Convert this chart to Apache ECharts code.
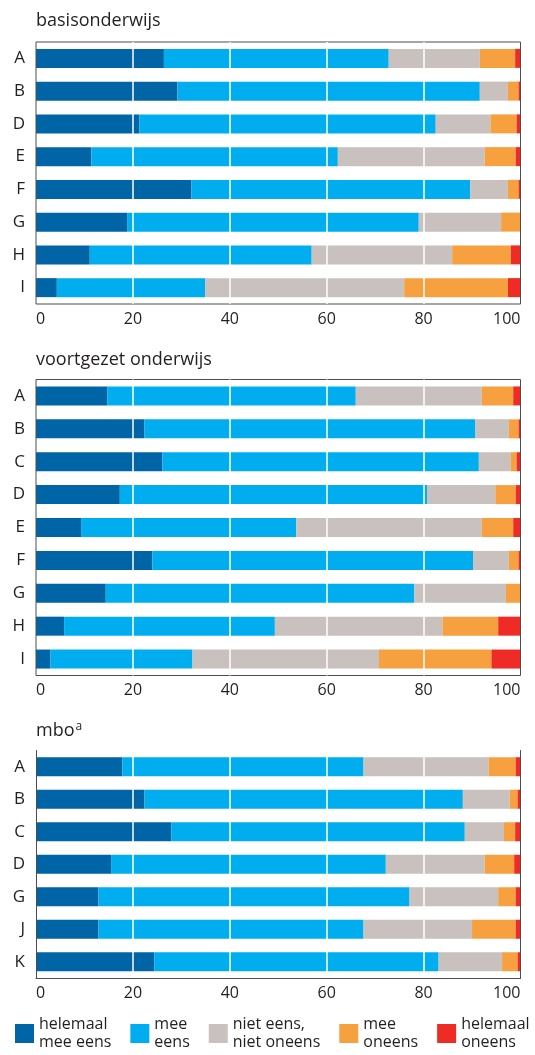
<!DOCTYPE html>
<html lang="nl">
<head>
<meta charset="utf-8">
<title>basisonderwijs, voortgezet onderwijs, mbo</title>
<script src="https://cdn.jsdelivr.net/npm/echarts@6/dist/echarts.min.js"></script>
<style>
  html, body { margin: 0; padding: 0; background: #fff; }
  #chart { width: 535px; height: 1055px; }
</style>
</head>
<body>
<div id="chart"></div>
<script>
// antwoordcategorieen (legenda)
const answerNames = ['helemaal\nmee eens', 'mee\neens', 'niet eens,\nniet oneens', 'mee\noneens', 'helemaal\noneens'];
const answerColors = ['#0065a6', '#00aeef', '#c9c1bd', '#f6a03f', '#ee2b25'];
const xTicks = [0, 20, 40, 60, 80, 100];

// basisonderwijs
const basisCats = ['A', 'B', 'D', 'E', 'F', 'G', 'H', 'I'];
const basisHelemaalEens = [26.4, 29.2, 21.3, 11.4, 32.1, 18.8, 11.1, 4.3];
const basisEens = [46.4, 62.4, 61.2, 50.9, 57.5, 60.2, 45.8, 30.6];
const basisNeutraal = [18.8, 5.8, 11.3, 30.3, 7.8, 17.0, 29.0, 41.1];
const basisOneens = [7.3, 2.2, 5.4, 6.4, 2.2, 3.9, 12.1, 21.4];
const basisHelemaalOneens = [1.1, 0.4, 0.8, 1.0, 0.4, 0.1, 2.0, 2.6];

// voortgezet onderwijs
const voCats = ['A', 'B', 'C', 'D', 'E', 'F', 'G', 'H', 'I'];
const voHelemaalEens = [14.7, 22.4, 26.1, 17.3, 9.3, 24.0, 14.4, 5.8, 3.0];
const voEens = [51.3, 68.3, 65.3, 63.4, 44.4, 66.2, 63.7, 43.5, 29.3];
const voNeutraal = [26.0, 6.9, 6.6, 14.1, 38.3, 7.4, 18.9, 34.6, 38.5];
const voOneens = [6.5, 2.0, 1.2, 4.2, 6.5, 2.0, 2.9, 11.5, 23.2];
const voHelemaalOneens = [1.5, 0.4, 0.8, 1.0, 1.5, 0.4, 0.1, 4.6, 6.0];

// mbo
const mboCats = ['A', 'B', 'C', 'D', 'G', 'J', 'K'];
const mboHelemaalEens = [17.8, 22.4, 27.9, 15.5, 12.9, 12.9, 24.4];
const mboEens = [49.8, 65.7, 60.6, 56.7, 64.2, 54.7, 58.7];
const mboNeutraal = [25.8, 9.7, 8.1, 20.4, 18.3, 22.4, 13.1];
const mboOneens = [5.6, 1.6, 2.3, 6.1, 3.6, 9.0, 3.2];
const mboHelemaalOneens = [1.0, 0.6, 1.1, 1.3, 1.0, 1.0, 0.6];

const panels = [
  { title: 'basisonderwijs', cats: basisCats,
    values: [basisHelemaalEens, basisEens, basisNeutraal, basisOneens, basisHelemaalOneens] },
  { title: 'voortgezet onderwijs', cats: voCats,
    values: [voHelemaalEens, voEens, voNeutraal, voOneens, voHelemaalOneens] },
  { title: '{n|mbo}{s|a}', cats: mboCats,
    values: [mboHelemaalEens, mboEens, mboNeutraal, mboOneens, mboHelemaalOneens] }
];

// opmaak per paneel
const layout = [
  { titleTop: 12, top: 42, height: 262, frame: true },
  { titleTop: 351, top: 379.5, height: 296, frame: true },
  { titleTop: 721, top: 750.5, height: 227.5, frame: false }
];

const font = '"Open Sans", "Noto Sans", sans-serif';
const textColor = '#231f20';
const lineColor = '#4d4d4d';

const chart = echarts.init(document.getElementById('chart'));

const title = [], grid = [], xAxis = [], yAxis = [], series = [];

// witte hulplijnen over de balken
const gridLines = xTicks.slice(1, -1).map(function (v) { return { xAxis: v }; });

panels.forEach(function (p, i) {
  const l = layout[i];
  title.push({
    text: p.title,
    left: 36,
    top: l.titleTop,
    padding: 0,
    textStyle: {
      fontFamily: font, fontSize: 18, fontWeight: 'normal', color: textColor,
      rich: {
        n: { fontFamily: font, fontSize: 18, color: textColor },
        s: { fontFamily: font, fontSize: 12, color: textColor, padding: [0, 0, 8, 1] }
      }
    }
  });
  grid.push({
    left: 36, right: 14.5, top: l.top, height: l.height,
    show: l.frame, borderColor: lineColor, borderWidth: 1, z: 5,
    backgroundColor: 'transparent'
  });
  xAxis.push({
    gridIndex: i, type: 'value', min: xTicks[0], max: xTicks[xTicks.length - 1],
    interval: xTicks[1] - xTicks[0],
    axisLine: { show: !l.frame, lineStyle: { color: lineColor, width: 1 } },
    axisTick: { show: false },
    axisLabel: {
      margin: 7, fontFamily: font, fontSize: 16, color: textColor,
      alignMinLabel: 'left', alignMaxLabel: 'right'
    },
    splitLine: { show: false }
  });
  yAxis.push({
    gridIndex: i, type: 'category', data: p.cats, inverse: true, z: 10,
    axisLine: { show: !l.frame, lineStyle: { color: lineColor, width: 1 } },
    axisTick: { show: false },
    axisLabel: { margin: 11, fontFamily: font, fontSize: 17, color: textColor }
  });
  p.values.forEach(function (vals, k) {
    const s = {
      type: 'bar', name: answerNames[k], xAxisIndex: i, yAxisIndex: i,
      stack: 'panel' + i, data: vals, barWidth: 19,
      itemStyle: { color: answerColors[k] }, silent: true
    };
    if (k === p.values.length - 1) {
      s.z = 4;
      s.markLine = {
        silent: true, symbol: ['none', 'none'], label: { show: false },
        lineStyle: { color: '#ffffff', width: 1.5, type: 'solid' },
        data: gridLines
      };
    }
    series.push(s);
  });
});

// rechter rand van het mbo-paneel (geen bovenrand)
yAxis.push({
  gridIndex: 2, type: 'category', data: mboCats, inverse: true, position: 'right', z: 10,
  axisLine: { show: true, lineStyle: { color: lineColor, width: 1 } },
  axisTick: { show: false }, axisLabel: { show: false }, splitLine: { show: false }
});

chart.setOption({
  animation: false,
  title: title,
  grid: grid,
  xAxis: xAxis,
  yAxis: yAxis,
  legend: {
    data: answerNames,
    left: 15, top: 1010, width: 530, padding: 0,
    itemWidth: 19, itemHeight: 19, itemGap: 19,
    icon: 'rect',
    textStyle: { fontFamily: font, fontSize: 16, color: textColor, lineHeight: 18, padding: [11, 0, 0, 0] }
  },
  series: series
});
</script>
</body>
</html>
